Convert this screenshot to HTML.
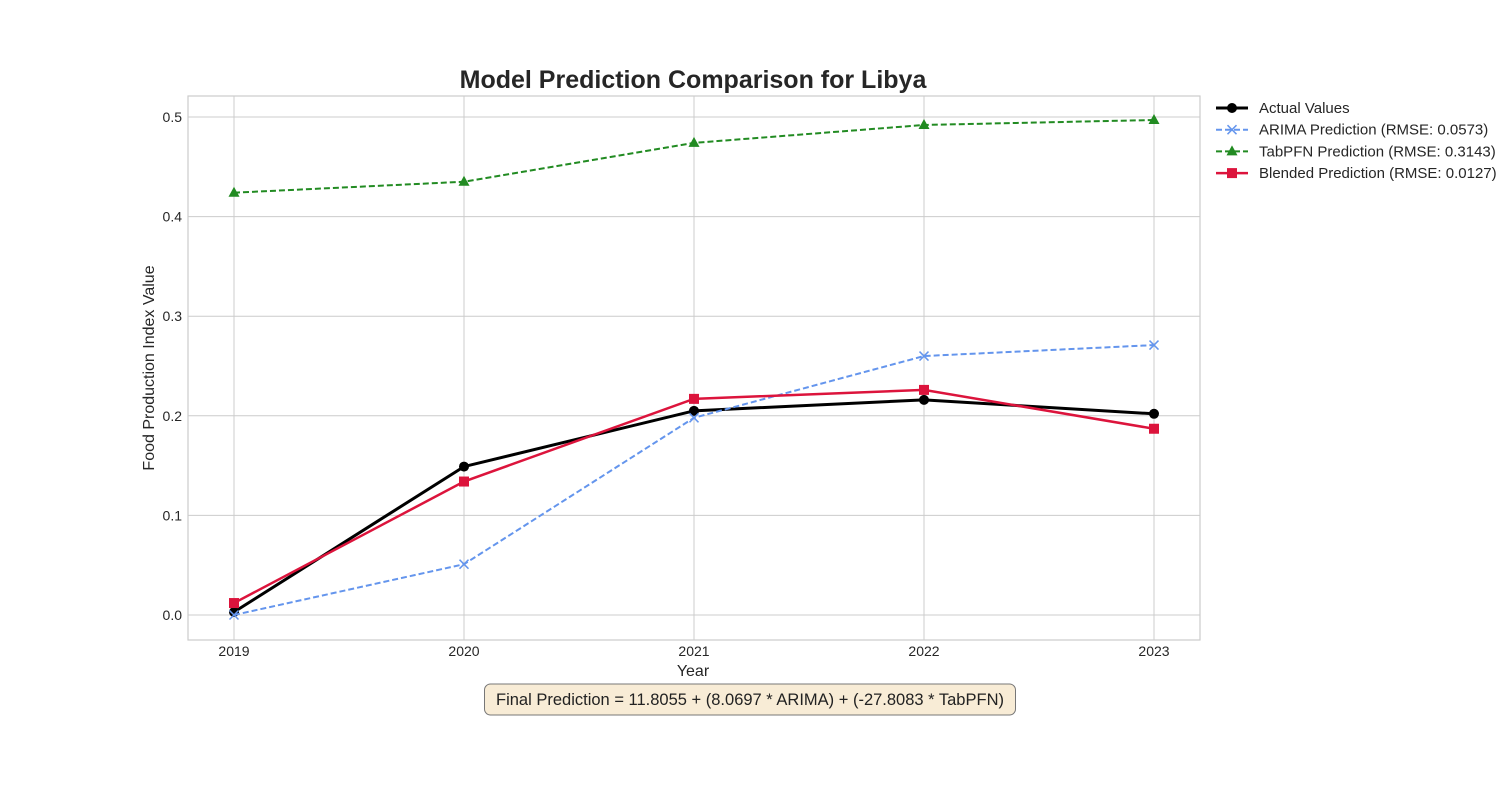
<!DOCTYPE html>
<html><head><meta charset="utf-8"><style>
body{margin:0;background:#fff;font-family:"Liberation Sans",sans-serif;}
</style></head><body>
<svg id="chart" width="1500" height="800" xmlns="http://www.w3.org/2000/svg" font-family="Liberation Sans, sans-serif">
<rect width="1500" height="800" fill="#fff"/>
<text x="693" y="88" text-anchor="middle" font-size="25" font-weight="bold" fill="#262626">Model Prediction Comparison for Libya</text>
<g id="grid"></g>
<rect x="188" y="96" width="1012" height="544" fill="none" stroke="#ccc" stroke-width="1.2"/>
<g id="series"></g>
<text x="693" y="676" text-anchor="middle" font-size="16" fill="#262626">Year</text>
<text transform="translate(154,368) rotate(-90)" text-anchor="middle" font-size="16" fill="#262626">Food Production Index Value</text>
<g>
<rect x="484.5" y="684" width="531" height="31" rx="6" fill="#f8ecd6" stroke="#777" stroke-width="1"/>
<text x="750" y="705" text-anchor="middle" font-size="16.5" fill="#222">Final Prediction = 11.8055 + (8.0697 * ARIMA) + (-27.8083 * TabPFN)</text>
</g>
<g id="legend"></g>
</svg>
<script>
const years=[2019,2020,2021,2022,2023];
const actual=[0.003,0.149,0.205,0.216,0.202];
const arima=[0.0,0.051,0.198,0.260,0.271];
const tabpfn=[0.424,0.435,0.474,0.492,0.497];
const blended=[0.012,0.134,0.217,0.226,0.187];
const yTicks=[0.0,0.1,0.2,0.3,0.4,0.5];
const NS="http://www.w3.org/2000/svg";
const xS=v=>234+(v-2019)*230;
const yS=v=>615-v*996;
function mk(tag,attrs,parent){const e=document.createElementNS(NS,tag);for(const k in attrs)e.setAttribute(k,attrs[k]);parent.appendChild(e);return e;}
const grid=document.getElementById('grid');
yTicks.forEach(t=>{
 const l=mk('line',{x1:188,x2:1200,y1:yS(t),y2:yS(t),stroke:'#ccc','stroke-width':1},grid);
 
 
 const tx=mk('text',{x:182,y:yS(t)+5,'text-anchor':'end','font-size':14,fill:'#262626'},grid);
 tx.textContent=t.toFixed(1);
 
 
});
years.forEach(y=>{
 const l=mk('line',{x1:xS(y),x2:xS(y),y1:96,y2:640,stroke:'#ccc','stroke-width':1},grid);
 
 
 const tx=mk('text',{x:xS(y),y:656,'text-anchor':'middle','font-size':14,fill:'#262626'},grid);
 tx.textContent=y;
 
 
});
function marker(g,type,x,y,color){
 if(type==='o')mk('circle',{cx:x,cy:y,r:5,fill:color},g);
 else if(type==='s')mk('rect',{x:x-5,y:y-5,width:10,height:10,fill:color},g);
 else if(type==='^')mk('polygon',{points:`${x},${y-6} ${x+5.5},${y+4} ${x-5.5},${y+4}`,fill:color},g);
 else if(type==='x'){mk('path',{d:`M${x-4.5},${y-4.5}L${x+4.5},${y+4.5}M${x-4.5},${y+4.5}L${x+4.5},${y-4.5}`,stroke:color,'stroke-width':1.5},g);}
}
const ser=document.getElementById('series');
const defs=[
 {d:tabpfn,c:'#228b22',w:2,dash:'6,3',m:'^',name:'tabpfn-series'},
 {d:arima,c:'#6495ed',w:2,dash:'6,3',m:'x',name:'arima-series'},
 {d:actual,c:'#000',w:3,dash:'',m:'o',name:'actual-series'},
 {d:blended,c:'#dc143c',w:2.5,dash:'',m:'s',name:'blended-series'}];
const order=[2,1,0,3];
order.forEach(i=>{
 const s=defs[i];
 const g=mk('g',{},ser);
 
 
 const pts=s.d.map((v,j)=>xS(years[j])+','+yS(v)).join(' ');
 const pl=mk('polyline',{points:pts,fill:'none',stroke:s.c,'stroke-width':s.w},g);
 if(s.dash)pl.setAttribute('stroke-dasharray',s.dash);
 s.d.forEach((v,j)=>marker(g,s.m,xS(years[j]),yS(v),s.c));
});
const legendLabels=['Actual Values','ARIMA Prediction (RMSE: 0.0573)','TabPFN Prediction (RMSE: 0.3143)','Blended Prediction (RMSE: 0.0127)'];
const lg=document.getElementById('legend');
[2,1,0,3].forEach((i,k)=>{
 const s=defs[i];const y=108+k*21.7;
 const g=mk('g',{},lg);
 
 
 const l=mk('line',{x1:1216,x2:1248,y1:y,y2:y,stroke:s.c,'stroke-width':s.w},g);
 if(s.dash)l.setAttribute('stroke-dasharray','6,3');
 marker(g,s.m,1232,y,s.c);
 const t=mk('text',{x:1259,y:y+5,'font-size':15,fill:'#262626'},g);
 t.textContent=legendLabels[k];
});
</script>
</body></html>
